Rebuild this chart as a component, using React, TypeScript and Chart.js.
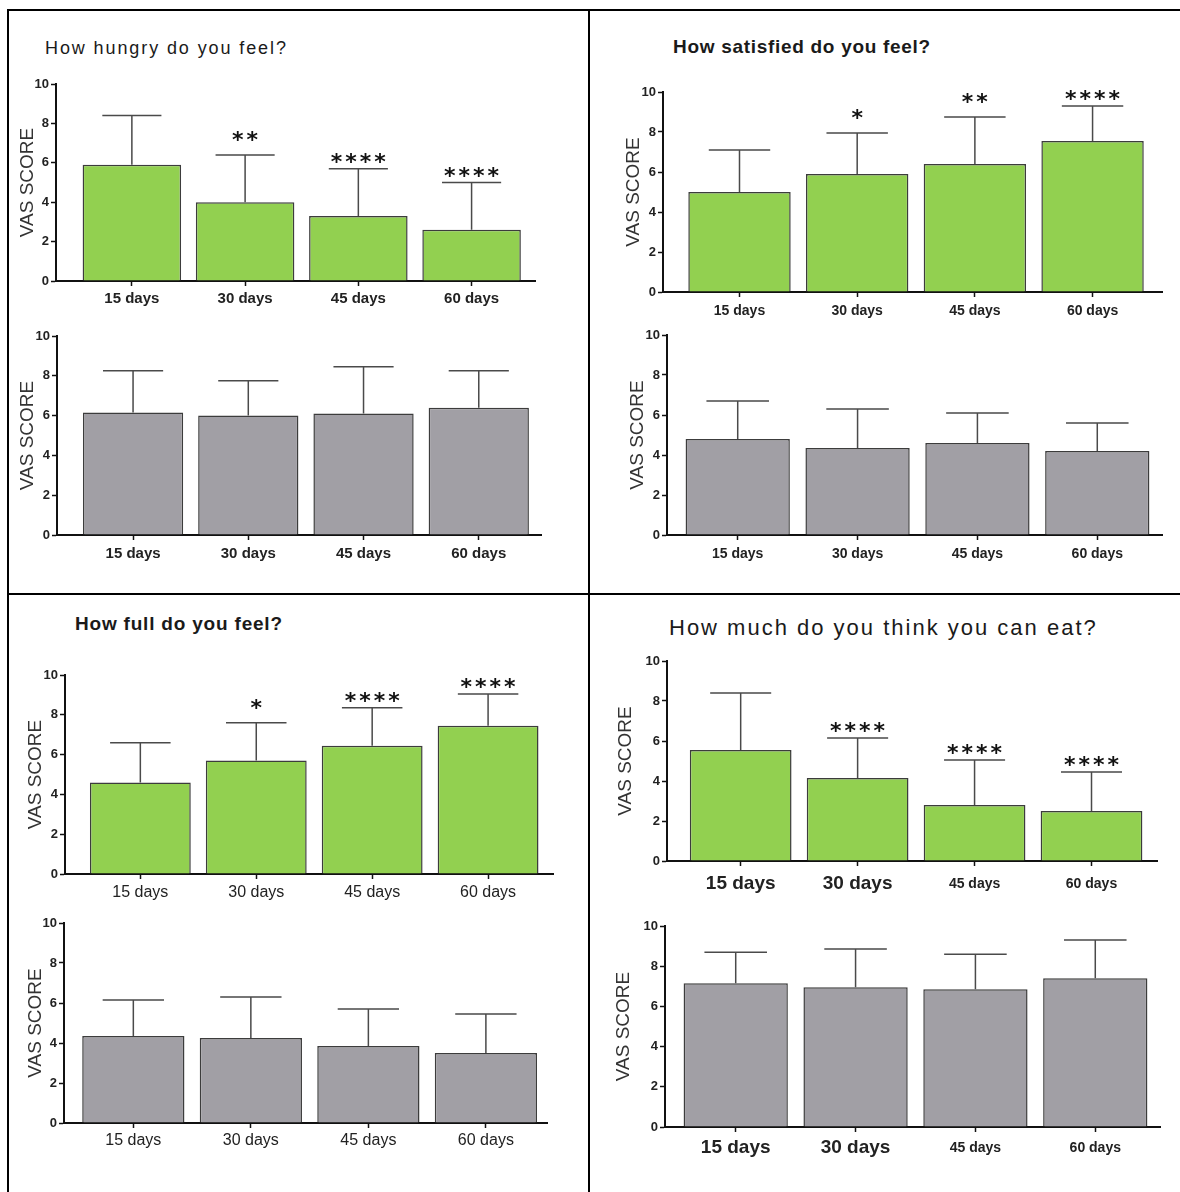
import React, { useEffect, useRef } from "react";
import { Chart, registerables } from "chart.js";

Chart.register(...registerables);

// ---------- data ----------
const categories = ["15 days", "30 days", "45 days", "60 days"];
const yTickStep = 2;
const yMax = 10;
const axisTitle = "VAS SCORE";

const hungryMean = [5.9, 4.0, 3.3, 2.6];
const hungrySD = [2.5, 2.4, 2.4, 2.4];
const hungrySig = ["", "**", "****", "****"];
const hungryCtrlMean = [6.15, 6.0, 6.1, 6.4];
const hungryCtrlSD = [2.1, 1.75, 2.35, 1.85];

const satisfiedMean = [5.0, 5.9, 6.4, 7.55];
const satisfiedSD = [2.1, 2.05, 2.35, 1.75];
const satisfiedSig = ["", "*", "**", "****"];
const satisfiedCtrlMean = [4.8, 4.35, 4.6, 4.2];
const satisfiedCtrlSD = [1.9, 1.95, 1.5, 1.4];

const fullMean = [4.6, 5.7, 6.45, 7.45];
const fullSD = [2.0, 1.9, 1.9, 1.6];
const fullSig = ["", "*", "****", "****"];
const fullCtrlMean = [4.35, 4.25, 3.85, 3.5];
const fullCtrlSD = [1.8, 2.05, 1.85, 1.95];

const eatMean = [5.55, 4.15, 2.8, 2.5];
const eatSD = [2.85, 2.0, 2.25, 1.95];
const eatSig = ["", "****", "****", "****"];
const eatCtrlMean = [7.15, 6.95, 6.85, 7.4];
const eatCtrlSD = [1.55, 1.9, 1.75, 1.9];

const noSig = ["", "", "", ""];

// ---------- styles ----------
const FONT = '"Liberation Sans", Arial, sans-serif';
const GREEN = "#92d050";
const GRAY = "#a19fa5";
const BAR_BORDER = "#3c3c3c";
const AXIS = "#111111";
const TEXT = "#222222";

const PT = 14;
const PR = 6;
const XH = 34;

type Spec = {
  mean: number[];
  sd: number[];
  sig: string[];
  color: string;
  l: number; t: number; r: number; b: number;
  titleX: number;
  xMin: number; xMax: number;
  labelFont: (i: number) => any;
  labelPad: number;
};

const boldF = (s: number) => () => ({ family: FONT, size: s, weight: "bold" });
const regF = (s: number) => () => ({ family: FONT, size: s, weight: "normal" });
const mixedF = (lh: string) => (i: number) =>
  i < 2
    ? { family: FONT, size: 19, weight: "bold", lineHeight: lh }
    : { family: FONT, size: 14, weight: "bold", lineHeight: lh };

const specs: Spec[] = [
  { mean: hungryMean, sd: hungrySD, sig: hungrySig, color: GREEN, l: 56, t: 84, r: 535, b: 281, titleX: 27, xMin: 0.33, xMax: 4.56, labelFont: boldF(15), labelPad: 4 },
  { mean: hungryCtrlMean, sd: hungryCtrlSD, sig: noSig, color: GRAY, l: 57, t: 336, r: 541, b: 535, titleX: 27, xMin: 0.34, xMax: 4.54, labelFont: boldF(15), labelPad: 5 },
  { mean: satisfiedMean, sd: satisfiedSD, sig: satisfiedSig, color: GREEN, l: 663, t: 92, r: 1162, b: 292, titleX: 633, xMin: 0.35, xMax: 4.59, labelFont: boldF(14), labelPad: 6 },
  { mean: satisfiedCtrlMean, sd: satisfiedCtrlSD, sig: noSig, color: GRAY, l: 667, t: 335, r: 1162, b: 535, titleX: 637, xMin: 0.41, xMax: 4.54, labelFont: boldF(14), labelPad: 6 },
  { mean: fullMean, sd: fullSD, sig: fullSig, color: GREEN, l: 65, t: 675, r: 553, b: 874, titleX: 35, xMin: 0.35, xMax: 4.56, labelFont: regF(16), labelPad: 4 },
  { mean: fullCtrlMean, sd: fullCtrlSD, sig: noSig, color: GRAY, l: 64, t: 923, r: 547, b: 1123, titleX: 35, xMin: 0.41, xMax: 4.52, labelFont: regF(16), labelPad: 3 },
  { mean: eatMean, sd: eatSD, sig: eatSig, color: GREEN, l: 667, t: 661, r: 1157, b: 861, titleX: 625, xMin: 0.37, xMax: 4.56, labelFont: mixedF("30px"), labelPad: 3 },
  { mean: eatCtrlMean, sd: eatCtrlSD, sig: noSig, color: GRAY, l: 665, t: 926, r: 1160, b: 1127, titleX: 623, xMin: 0.41, xMax: 4.54, labelFont: mixedF("26px"), labelPad: 3 },
];

const titles = [
  { text: "How hungry do you feel?", left: 45, top: 37, size: 18, weight: "normal", ls: 1.9 },
  { text: "How satisfied do you feel?", left: 673, top: 36, size: 19, weight: "bold", ls: 0.7 },
  { text: "How full do you feel?", left: 75, top: 613, size: 19, weight: "bold", ls: 0.8 },
  { text: "How much do you think you can eat?", left: 669, top: 617, size: 22, weight: "normal", ls: 2 },
];

const errorBarPlugin = {
  id: "errorBars",
  afterDatasetsDraw(chart: any, _args: any, opts: any) {
    const { ctx } = chart;
    const meta = chart.getDatasetMeta(0);
    const yScale = chart.scales.y;
    const sd: number[] = opts.sd || [];
    const sig: string[] = opts.sig || [];
    ctx.save();
    meta.data.forEach((bar: any, i: number) => {
      const { x, width } = bar.getProps(["x", "width"], true);
      const mean = chart.data.datasets[0].data[i].y;
      const yMean = yScale.getPixelForValue(mean);
      const yTop = yScale.getPixelForValue(mean + sd[i]);
      ctx.strokeStyle = "#4a4a4a";
      ctx.lineWidth = 1.5;
      ctx.beginPath();
      ctx.moveTo(x, yMean);
      ctx.lineTo(x, yTop);
      const half = width * 0.3;
      ctx.moveTo(x - half, yTop);
      ctx.lineTo(x + half, yTop);
      ctx.stroke();
      const s = sig[i];
      if (s) {
        ctx.fillStyle = "#111";
        ctx.font = 'bold 22px "DejaVu Sans", sans-serif';
        ctx.textAlign = "center";
        ctx.textBaseline = "alphabetic";
        const gap = 14.5;
        const n = s.length;
        const lift = n < 4 ? 8 : 0;
        for (let k = 0; k < n; k++) {
          const cx = x + (k - (n - 1) / 2) * gap;
          ctx.fillText("*", cx, yTop - lift);
        }
      }
    });
    ctx.restore();
  },
};

function BarPanel({ spec }: { spec: Spec }) {
  const ref = useRef<HTMLCanvasElement>(null);
  const canvasLeft = spec.titleX - 22;
  const YW = spec.l - canvasLeft;
  const canvasTop = spec.t - PT;
  const w = spec.r - spec.l + YW + PR;
  const h = spec.b - spec.t + PT + XH;

  useEffect(() => {
    const chart = new Chart(ref.current as HTMLCanvasElement, {
      type: "bar",
      data: {
        datasets: [
          {
            data: spec.mean.map((v, i) => ({ x: i + 1, y: v })),
            backgroundColor: spec.color,
            borderColor: BAR_BORDER,
            borderWidth: 1.5,
            barPercentage: 0.87,
            categoryPercentage: 1,
          },
        ],
      },
      options: {
        responsive: false,
        animation: false,
        events: [],
        layout: { padding: { top: PT, right: PR, left: 0, bottom: 0 } },
        plugins: {
          legend: { display: false },
          tooltip: { enabled: false },
          errorBars: { sd: spec.sd, sig: spec.sig },
        } as any,
        scales: {
          x: {
            type: "linear",
            min: spec.xMin,
            max: spec.xMax,
            offset: false,
            afterBuildTicks: (s: any) => {
              s.ticks = categories.map((_, i) => ({ value: i + 1 }));
            },
            afterFit: (s: any) => {
              s.height = XH;
            },
            ticks: {
              autoSkip: false,
              maxRotation: 0,
              padding: spec.labelPad,
              color: TEXT,
              font: (c: any) => spec.labelFont(c.index),
              callback: (v: any) => categories[Math.round(v) - 1] ?? "",
            },
            grid: {
              display: true,
              drawOnChartArea: false,
              drawTicks: true,
              tickLength: 5,
              tickColor: AXIS,
              tickWidth: 1.5,
              offset: false,
            },
            border: { display: true, color: AXIS, width: 2 },
          } as any,
          y: {
            type: "linear",
            min: 0,
            max: yMax,
            afterFit: (s: any) => {
              s.width = YW;
            },
            ticks: {
              stepSize: yTickStep,
              padding: 2,
              color: TEXT,
              font: { family: FONT, size: 13, weight: "bold" },
            },
            grid: {
              display: true,
              drawOnChartArea: false,
              drawTicks: true,
              tickLength: 5,
              tickColor: AXIS,
              tickWidth: 1.5,
            },
            border: { display: true, color: AXIS, width: 2 },
            title: {
              display: true,
              text: axisTitle,
              color: "#333",
              font: { family: FONT, size: 19, weight: "normal" },
              padding: { top: 11, bottom: 0 },
            },
          } as any,
        },
      },
      plugins: [errorBarPlugin],
    });
    return () => chart.destroy();
  }, []);

  return (
    <canvas
      ref={ref}
      width={w}
      height={h}
      style={{ position: "absolute", left: canvasLeft, top: canvasTop, width: w, height: h }}
    />
  );
}

export default function App() {
  return (
    <div
      style={{
        position: "absolute",
        left: 0,
        top: 0,
        width: 1180,
        height: 1192,
        overflow: "hidden",
        background: "#fff",
        fontFamily: FONT,
      }}
    >
      <div style={{ position: "absolute", left: 7, top: 9, width: 1173, height: 2, background: "#000" }} />
      <div style={{ position: "absolute", left: 7, top: 9, width: 2, height: 1183, background: "#000" }} />
      <div style={{ position: "absolute", left: 588, top: 9, width: 2, height: 1183, background: "#000" }} />
      <div style={{ position: "absolute", left: 7, top: 593, width: 1173, height: 2, background: "#000" }} />
      {titles.map((t) => (
        <div
          key={t.text}
          style={{
            position: "absolute",
            left: t.left,
            top: t.top,
            fontSize: t.size,
            fontWeight: t.weight as any,
            letterSpacing: t.ls,
            color: "#1a1a1a",
            whiteSpace: "nowrap",
            lineHeight: "22px",
          }}
        >
          {t.text}
        </div>
      ))}
      {specs.map((s, i) => (
        <BarPanel key={i} spec={s} />
      ))}
    </div>
  );
}
